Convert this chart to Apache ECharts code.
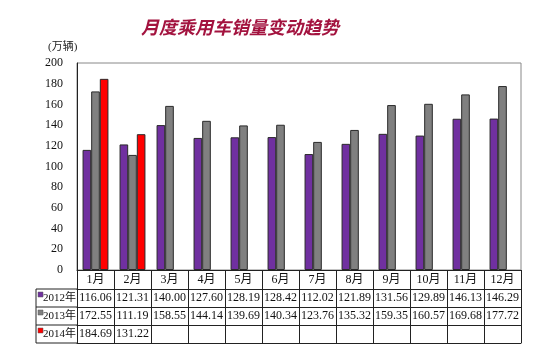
<!DOCTYPE html>
<html><head><meta charset="utf-8">
<script src="https://cdn.jsdelivr.net/npm/echarts@6/dist/echarts.min.js"></script>
<style>html,body{margin:0;padding:0;background:#fff}#c{width:550px;height:363px}</style>
</head><body><div id="c"></div>
<script>
const months = ['1月','2月','3月','4月','5月','6月','7月','8月','9月','10月','11月','12月'];
const s2012 = [116.06,121.31,140.00,127.60,128.19,128.42,112.02,121.89,131.56,129.89,146.13,146.29];
const s2013 = [172.55,111.19,158.55,144.14,139.69,140.34,123.76,135.32,159.35,160.57,169.68,177.72];
const s2014 = [184.69,131.22,null,null,null,null,null,null,null,null,null,null];
const seriesNames = ['2012年','2013年','2014年'];
const seriesColors = ['#7030A0','#808080','#FF0000'];
const yTicks = [0,20,40,60,80,100,120,140,160,180,200];

const allData = [s2012, s2013, s2014];
const serif = '"Liberation Serif","Noto Sans CJK SC",serif';
const gridL = 77, gridR = 29, gridT = 63, gridB = 93;
const rowOff = [19, 37, 55];
const rowH = [18, 18, 18];
const tableBottom = 73;

const chart = echarts.init(document.getElementById('c'), null, {renderer:'canvas'});

const xAxes = [{
  type:'category', data:months, gridIndex:0, position:'bottom',
  axisLine:{show:true, lineStyle:{color:'#222', width:1}},
  axisTick:{show:true, length:19, lineStyle:{color:'#222'}},
  axisLabel:{fontFamily:serif, fontSize:12, color:'#111', margin:4, interval:0},
  splitLine:{show:false}
}];
allData.forEach((arr, i) => {
  xAxes.push({
    type:'category', data:months, gridIndex:0, position:'bottom', offset:rowOff[i],
    axisLine:{show:true, lineStyle:{color:'#222', width:1}},
    axisTick:{show:true, length:rowH[i], lineStyle:{color:'#222'}},
    axisLabel:{fontFamily:serif, fontSize:12, color:'#111', margin:3, interval:0,
      formatter:(v, idx) => arr[idx] == null ? '' : arr[idx].toFixed(2)},
    splitLine:{show:false}
  });
});
xAxes.push({
  type:'category', data:months, gridIndex:0, position:'bottom', offset:tableBottom,
  axisLine:{show:true, lineStyle:{color:'#222', width:1}},
  axisTick:{show:false}, axisLabel:{show:false}, splitLine:{show:false}
});

const graphics = [];
const baseY = 363 - gridB;
const lineYs = [rowOff[0], rowOff[1], rowOff[2], tableBottom].map(o => baseY + o);
lineYs.forEach(y => graphics.push({type:'line', shape:{x1:36, y1:y, x2:gridL, y2:y}, style:{stroke:'#222', lineWidth:1}}));
graphics.push({type:'line', shape:{x1:36, y1:lineYs[0], x2:36, y2:lineYs[3]}, style:{stroke:'#222', lineWidth:1}});
seriesNames.forEach((n, i) => {
  const yc = (lineYs[i] + lineYs[i+1]) / 2;
  graphics.push({type:'rect', shape:{x:38, y:yc-6, width:5, height:5}, style:{fill:seriesColors[i], stroke:'#555', lineWidth:0.5}});
  graphics.push({type:'text', x:43, y:yc, style:{text:n, font:'11px ' + serif, fill:'#111', verticalAlign:'middle', align:'left'}});
});
graphics.push({type:'text', x:240, y:27, style:{text:'月度乘用车销量变动趋势', font:'italic bold 18px "Noto Sans CJK SC",sans-serif', fill:'#A3133F', align:'center', verticalAlign:'middle'}});
graphics.push({type:'text', x:48, y:47, style:{text:'(万辆)', font:'11px ' + serif, fill:'#222', align:'left', verticalAlign:'middle'}});

chart.setOption({
  animation:false,
  backgroundColor:'#fff',
  grid:{left:gridL, right:gridR, top:gridT, bottom:gridB, show:true, borderColor:'#888', borderWidth:1, backgroundColor:'transparent'},
  xAxis:xAxes,
  yAxis:{type:'value', min:yTicks[0], max:yTicks[yTicks.length-1], interval:20,
    axisLine:{show:true, lineStyle:{color:'#222'}}, axisTick:{show:false},
    axisLabel:{fontFamily:serif, fontSize:12, color:'#111', margin:14},
    splitLine:{show:false}},
  series:allData.map((arr, i) => ({
    type:'bar', name:seriesNames[i], data:arr, xAxisIndex:0,
    barGap:'0%', barCategoryGap:'30%',
    itemStyle:{color:seriesColors[i], borderColor:'#2a2a2a', borderWidth:1}
  })),
  graphic:graphics
});
</script></body></html>
